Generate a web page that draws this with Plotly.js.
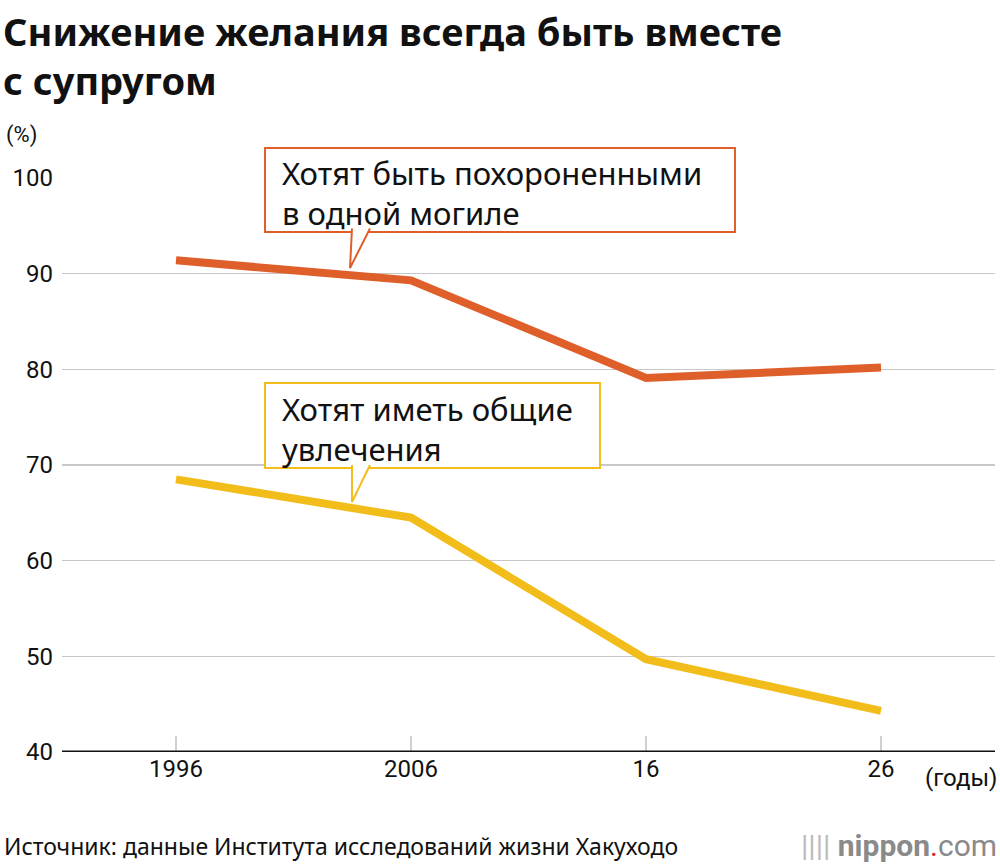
<!DOCTYPE html>
<html><head><meta charset="utf-8">
<script src="https://cdn.plot.ly/plotly-3.0.1.min.js"></script>
<style>body{margin:0;background:#fff}</style></head>
<body><div id="c" style="width:1000px;height:866px"></div>
<script>
const years = [1996, 2006, 2016, 2026];
const tickLabels = ['1996', '2006', '16', '26'];
const burial = [91.4, 89.3, 79.1, 80.2];
const hobbies = [68.5, 64.5, 49.7, 44.3];
const orange = '#df5f2b', yellow = '#f2bd1a';
const F = 'Noto Sans, sans-serif';
const R = 'Roboto, sans-serif';
const traces = [
  {x: years, y: burial, mode: 'lines', line: {color: orange, width: 8}, hoverinfo: 'skip'},
  {x: years, y: hobbies, mode: 'lines', line: {color: yellow, width: 8}, hoverinfo: 'skip'}
];
const layout = {
  width: 1000, height: 866, showlegend: false,
  margin: {l: 62, r: 5, t: 178, b: 114},
  paper_bgcolor: '#fff', plot_bgcolor: '#fff',
  xaxis: {range: [1991.15, 2030.85], tickvals: years, ticktext: tickLabels, showgrid: false,
    zeroline: false, showline: false, ticks: 'inside', ticklen: 16, tickwidth: 2, tickcolor: '#d0d0d0',
    tickfont: {family: R, size: 24, color: '#111'}, fixedrange: true},
  yaxis: {range: [40, 100], dtick: 10, showgrid: true, gridcolor: '#c8c8c8', gridwidth: 1.5,
    zeroline: false, showline: false, ticks: '', ticklabelstandoff: 8,
    tickfont: {family: R, size: 24, color: '#111'}, fixedrange: true},
  shapes: [
    {type: 'line', xref: 'paper', yref: 'y', x0: 0, x1: 1, y0: 40, y1: 40, line: {color: '#111', width: 3}, layer: 'above'},
    {type: 'rect', xref: 'paper', yref: 'paper', x0: 0.2176, x1: 0.7213, y0: 0.906, y1: 1.0523,
      fillcolor: '#fff', line: {color: orange, width: 2}, layer: 'above'},
    {type: 'path', xref: 'paper', yref: 'paper', path: 'M0.3108,0.912 L0.3087,0.8432 L0.3301,0.912',
      fillcolor: '#fff', line: {color: orange, width: 2}, layer: 'above'},
    {type: 'rect', xref: 'paper', yref: 'paper', x0: 0.2176, x1: 0.5766, y0: 0.4948, y1: 0.6429,
      fillcolor: '#fff', line: {color: yellow, width: 2}, layer: 'above'},
    {type: 'path', xref: 'paper', yref: 'paper', path: 'M0.3108,0.5 L0.3108,0.4355 L0.3301,0.5',
      fillcolor: '#fff', line: {color: yellow, width: 2}, layer: 'above'}
  ],
  annotations: [
    {xref: 'paper', yref: 'paper', x: -0.065, y: 1.305, xanchor: 'left', yanchor: 'top', align: 'left', showarrow: false,
      text: '<b>Снижение желания всегда быть вместе<br>с супругом</b>', font: {family: F, size: 38, color: '#111'}},
    {xref: 'paper', yref: 'paper', x: 0.2337, y: 1.049, xanchor: 'left', yanchor: 'top', align: 'left', showarrow: false,
      text: 'Хотят быть похороненными<br>в одной могиле', font: {family: F, size: 31, color: '#111'}},
    {xref: 'paper', yref: 'paper', x: 0.2337, y: 0.637, xanchor: 'left', yanchor: 'top', align: 'left', showarrow: false,
      text: 'Хотят иметь общие<br>увлечения', font: {family: F, size: 31, color: '#111'}},
    {xref: 'paper', yref: 'paper', x: -0.062, y: 1.075, xanchor: 'left', yanchor: 'middle', showarrow: false,
      text: '(%)', font: {family: R, size: 22, color: '#111'}},
    {xref: 'paper', yref: 'paper', x: 1.004, y: -0.045, xanchor: 'right', yanchor: 'middle', showarrow: false,
      text: '(годы)', font: {family: R, size: 24, color: '#111'}},
    {xref: 'paper', yref: 'paper', x: -0.064, y: -0.163, xanchor: 'left', yanchor: 'middle', showarrow: false,
      text: 'Источник: данные Института исследований жизни Хакуходо', font: {family: F, size: 23, color: '#111'}},
    {xref: 'paper', yref: 'paper', x: 1.004, y: -0.163, xanchor: 'right', yanchor: 'middle', showarrow: false,
      text: '<span style="color:#bbb">|||| </span><b>nippon</b><span style="color:#e0202a">.</span>com',
      font: {family: R, size: 30, color: '#8a8a8a'}}
  ]
};
Plotly.newPlot('c', traces, layout, {displayModeBar: false, staticPlot: true});
</script></body></html>
